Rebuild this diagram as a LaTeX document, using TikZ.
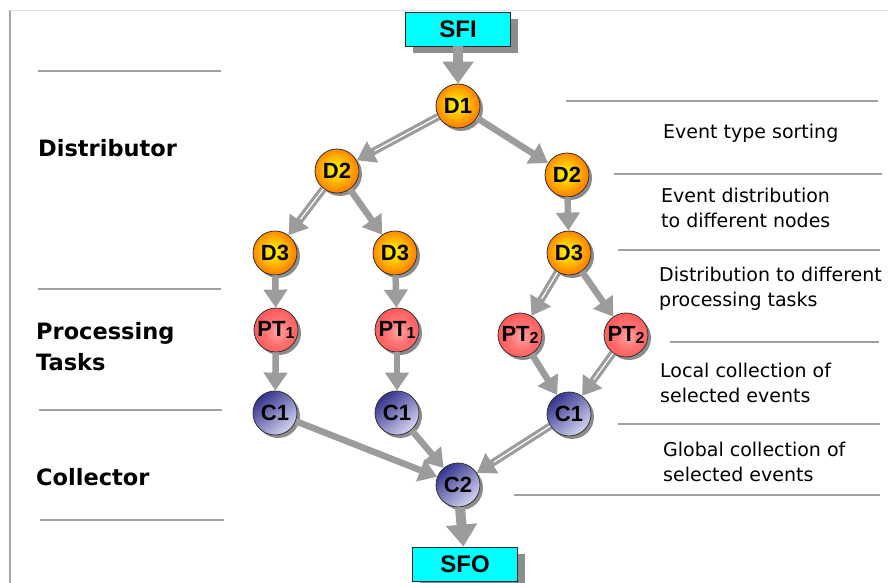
\documentclass[tikz,border=0pt]{standalone}
\usepackage{fontspec}
\setmainfont{DejaVu Sans}
\newfontfamily\labelfont{Liberation Sans}
\usetikzlibrary{arrows.meta,shadows}

\definecolor{flowgray}{HTML}{9C9C9C}
\definecolor{shadowgray}{HTML}{8C8C8C}
\definecolor{boxcyan}{HTML}{00FFFF}
\definecolor{rulegray}{HTML}{A0A0A0}
\definecolor{collectordark}{HTML}{34348C}
\definecolor{collectorlight}{HTML}{D4D4F2}

% ball shadings for the three kinds of stages
\pgfdeclareradialshading{distball}{\pgfpoint{-2bp}{2bp}}{%
  color(0bp)=(yellow!95!orange); color(9bp)=(yellow!65!orange);
  color(24bp)=(orange!95!yellow); color(42bp)=(orange!85!red); color(50bp)=(orange!70!red);
  color(100bp)=(orange!70!red)}
\pgfdeclareradialshading{taskball}{\pgfpoint{2bp}{-2bp}}{%
  color(0bp)=(red!35!white); color(14bp)=(red!55!white);
  color(36bp)=(red!72!white); color(50bp)=(red!82!white); color(100bp)=(red!82!white)}

\tikzset{
  ball/.style={circle, minimum size=44pt, inner sep=0pt, draw=black!80, line width=0.8pt,
    font=\labelfont\bfseries\fontsize{22}{22}\selectfont,
    drop shadow={shadow xshift=3pt, shadow yshift=-3pt, fill=shadowgray, opacity=1}},
  dnode/.style={ball, shading=distball},
  ptnode/.style={ball, shading=taskball},
  cnode/.style={ball, top color=collectordark, bottom color=collectorlight, shading angle=40},
  flowbox/.style={draw=black!85, line width=0.8pt, fill=boxcyan, minimum width=105pt,
    minimum height=34pt, inner sep=0pt, font=\labelfont\bfseries\fontsize{24}{24}\selectfont,
    drop shadow={shadow xshift=7pt, shadow yshift=-7pt, fill=shadowgray, opacity=1}},
  flow/.style={draw=flowgray, line width=6.5pt, -{Triangle[width=23pt,length=18pt]}},
  wideflow/.style={flow, line width=7.5pt},
  bigflow/.style={draw=flowgray, line width=10pt, -{Triangle[width=30pt,length=22pt]}},
  stripe/.style={draw=white, line width=1.2pt, shorten >=20pt},
  rule/.style={draw=rulegray, line width=1.5pt},
  ltext/.style={anchor=west, align=left, inner sep=0pt, font=\bfseries\fontsize{22.5}{31}\selectfont},
  rtext/.style={anchor=west, align=left, inner sep=0pt, font=\fontsize{19}{24.5}\selectfont}
}
\newcommand\pairflow[2]{\draw[wideflow] (#1) -- (#2); \draw[stripe] (#1) -- (#2);}
\newcommand\sub[1]{{\fontsize{16}{16}\selectfont\raisebox{-1.5pt}{#1}}}

\begin{document}
\begin{tikzpicture}[x=1pt,y=-1pt]
\useasboundingbox[fill=white] (0,0) rectangle (888,583);

% frame
\draw[gray!70, line width=1.5pt] (10,583) -- (10,10);
\draw[gray!25, line width=1pt] (10,11) -- (888,11);

% left stage bands
\draw[rule] (38,71) -- (221,71);
\draw[rule] (38,289) -- (221,289);
\draw[rule] (39,410) -- (222,410);
\draw[rule] (40,520) -- (224,520);
\node[ltext] (distributor) at (38,148) {Distributor};
\node[ltext] (processing) at (36,347) {Processing\\Tasks};
\node[ltext] (collector) at (36,477) {Collector};

% right description bands
\draw[rule] (566,101) -- (878,101);
\draw[rule] (614,174) -- (882,174);
\draw[rule] (618,250) -- (880,250);
\draw[rule] (670,342) -- (879,342);
\draw[rule] (618,424) -- (880,424);
\draw[rule] (514,495) -- (880,495);
\node[rtext] (sorting) at (663,133) {Event type sorting};
\node[rtext] (todiff) at (661,208) {Event distribution\\to different nodes};
\node[rtext] (totasks) at (659,289) {Distribution to different\\processing tasks};
\node[rtext] (local) at (660,383) {Local collection of\\selected events};
\node[rtext] (global) at (663,462) {Global collection of\\selected events};

% flow stages
\node[flowbox] (sfi) at (458,29) {SFI};
\node[dnode] (d1) at (458,106) {D1};
\node[dnode] (d2a) at (337,171) {D2};
\node[dnode] (d2b) at (567,175) {D2};
\node[dnode] (d3a) at (275,253) {D3};
\node[dnode] (d3b) at (395,253) {D3};
\node[dnode] (d3c) at (569,253) {D3};
\node[ptnode] (pt1a) at (276,330) {PT\sub{1}};
\node[ptnode] (pt1b) at (397,330) {PT\sub{1}};
\node[ptnode] (pt2a) at (520,335) {PT\sub{2}};
\node[ptnode] (pt2b) at (626,335) {PT\sub{2}};
\node[cnode] (c1a) at (275,413) {C1};
\node[cnode] (c1b) at (397,413) {C1};
\node[cnode] (c1c) at (569,414) {C1};
\node[cnode] (c2) at (458,485) {C2};
\node[flowbox] (sfo) at (465,564) {SFO};

% connectors
\draw[bigflow] (sfi) -- (d1);
\pairflow{d1}{d2a}
\draw[flow] (d1) -- (d2b);
\pairflow{d2a}{d3a}
\draw[flow] (d2a) -- (d3b);
\draw[flow] (d2b) -- (d3c);
\draw[flow] (d3a) -- (pt1a);
\draw[flow] (d3b) -- (pt1b);
\pairflow{d3c}{pt2a}
\draw[flow] (d3c) -- (pt2b);
\draw[flow] (pt1a) -- (c1a);
\draw[flow] (pt1b) -- (c1b);
\draw[flow] (pt2a) -- (c1c);
\pairflow{pt2b}{c1c}
\draw[flow] (c1a) -- (c2);
\draw[flow] (c1b) -- (c2);
\pairflow{c1c}{c2}
\draw[bigflow] (c2) -- (sfo);
\end{tikzpicture}
\end{document}
